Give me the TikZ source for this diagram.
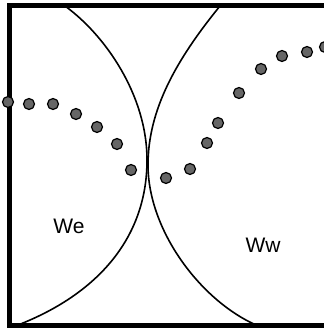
\documentclass[tikz,border=0pt]{standalone}
\usepackage{fontspec}
\setmainfont{Liberation Sans}
\begin{document}
\begin{tikzpicture}[
    x=1pt,y=-1pt,
    frame/.style={line width=5pt},
    wall/.style={line width=1.6pt},
    bead/.style={circle,fill=black!60,draw=black,line width=1.2pt,
      minimum size=11pt,inner sep=0pt},
    zone/.style={font=\fontsize{21}{25}\selectfont,inner sep=0pt}
  ]
    \useasboundingbox (0,0) rectangle (323,328);
    % box (open on the right)
    \draw[frame] (340,6) -- (9.5,6) -- (9.5,325) -- (340,325);
    % the two walls
    \draw[wall] (65,6) .. controls (105,35) and (147,95) .. (147,160)
      .. controls (147,240) and (95,295) .. (18,325);
    \draw[wall] (220,6) .. controls (176,60) and (148,110) .. (148,165)
      .. controls (148,230) and (200,300) .. (256,325);
    % beads
    \foreach \x/\y [count=\i] in {8/102,29/104,53/104,76/114,97/127,117/144,
      131/170,166/178,190/169,207/143,218/123,239/93,261/69,282/56,307/52,325/47}
      \node[bead] (b\i) at (\x,\y) {};
    \node[zone] (we) at (69,226) {We};
    \node[zone] (ww) at (263,245) {Ww};
\end{tikzpicture}
\end{document}
